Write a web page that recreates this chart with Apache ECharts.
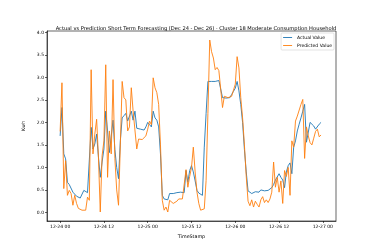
<!DOCTYPE html>
<html><head><meta charset="utf-8">
<script src="https://cdn.jsdelivr.net/npm/echarts@6/dist/echarts.min.js"></script>
<style>html,body{margin:0;padding:0;background:#fff}#c{width:374px;height:249px}</style>
</head><body><div id="c"></div>
<script>
// Half-hourly readings, 12-24 00:00 to 12-26 23:30
const startHour = 0, stepHours = 0.5;
const actual = [
1.70,2.33,1.30,1.19,0.67,0.62,0.58,0.45,0.43,0.36,0.34,0.32,0.31,0.49,0.45,0.44,0.43,1.89,1.41,1.52,
1.74,1.23,0.78,1.12,1.41,2.25,1.81,1.33,1.30,2.05,1.40,1.00,0.75,1.60,2.10,2.15,2.20,2.03,2.05,2.25,
2.05,2.25,1.87,1.85,1.85,1.85,1.83,1.90,2.00,1.95,1.90,2.25,2.10,2.05,1.90,1.30,0.38,0.30,0.34,0.28,
0.42,0.41,0.42,0.42,0.44,0.45,0.45,0.44,0.44,0.93,0.67,0.93,1.04,0.90,0.70,0.49,0.43,0.42,0.38,1.45,
2.20,2.91,2.95,2.91,2.87,2.91,2.93,2.93,2.93,2.55,2.55,2.54,2.55,2.55,2.62,2.69,2.76,2.91,2.70,2.40,
2.00,1.40,0.90,0.48,0.44,0.42,0.41,0.46,0.43,0.45,0.50,0.47,0.48,0.48,0.49,0.52,0.55,0.62,0.72,0.70,
0.86,0.78,0.72,0.55,0.90,1.04,1.10,0.86,1.45,1.59,1.81,1.96,2.10,2.25,2.40,1.56,1.56,2.00,1.96,1.92,
1.85,1.88,1.96,2.00];
const predicted = [
1.80,2.88,0.53,1.15,0.38,0.49,0.42,0.16,0.38,0.20,0.09,0.12,0.05,0.01,0.05,0.34,0.27,3.17,1.30,1.74,
2.07,1.23,0.01,1.26,1.59,3.28,0.78,1.81,1.30,2.95,1.20,0.50,0.16,1.50,2.91,2.55,2.50,1.81,1.90,2.77,
2.25,2.29,1.41,1.63,1.60,1.62,1.64,1.70,1.85,2.03,1.95,2.99,2.77,2.66,2.40,1.50,0.27,0.05,0.12,0.01,
0.27,0.23,0.20,0.23,0.25,0.30,0.34,0.30,0.30,0.95,0.56,0.80,1.00,1.45,0.90,0.45,0.20,0.05,0.01,0.08,
0.71,2.20,3.83,3.57,3.43,3.17,3.22,3.15,3.15,2.33,2.58,2.55,2.55,2.58,2.58,2.62,2.85,3.46,3.21,2.55,
2.10,1.50,0.80,0.25,0.15,0.28,0.12,0.25,0.18,0.12,0.28,0.35,0.22,0.28,0.22,0.30,0.45,1.12,0.56,0.78,
0.45,0.70,0.20,0.93,0.80,1.00,0.38,1.59,1.45,2.03,2.14,2.14,2.40,2.51,1.20,1.90,1.70,1.55,1.50,1.65,
1.80,1.85,1.68,1.72];
const xTickHours = [0,12,24,36,48,60,72];
const xTickLabels = ['12-24 00','12-24 12','12-25 00','12-25 12','12-26 00','12-26 12','12-27 00'];
const yTicks = [0,0.5,1.0,1.5,2.0,2.5,3.0,3.5,4.0];

const toPairs = arr => arr.map((v,i)=>[startHour + i*stepHours, v]);
const font = 'DejaVu Sans';
const lineIcon = 'path://M0,0 L10,0 L10,1 L0,1 Z';
const chart = echarts.init(document.getElementById('c'), null, {renderer:'canvas'});
chart.setOption({
  animation:false,
  textStyle:{fontFamily:font},
  title:{text:'Actual vs Prediction Short Term Forecasting (Dec 24 - Dec 26) - Cluster 18 Moderate Consumption Household',
    left:191, textAlign:'center', top:21, textStyle:{fontSize:5.15, fontWeight:'normal', color:'#000', fontFamily:font}},
  grid:{left:47, right:38, top:31, bottom:28, show:true, borderColor:'#000', borderWidth:0.6, backgroundColor:'transparent'},
  legend:{orient:'vertical', right:40, top:33, itemWidth:9, itemHeight:1, itemGap:3,
    padding:[2,2,2,2], borderColor:'#d0d0d0', borderWidth:0.6, borderRadius:1,
    textStyle:{fontSize:4.5, color:'#000', fontFamily:font},
    data:[{name:'Actual Value', icon:lineIcon},{name:'Predicted Value', icon:lineIcon}]},
  xAxis:{type:'value', min:-3.6, max:75.6, name:'TimeStamp', nameLocation:'middle', nameGap:9,
    nameTextStyle:{fontSize:4.8, color:'#000'},
    axisLine:{show:true, onZero:false, lineStyle:{color:'#000', width:0.6}},
    axisTick:{show:true, length:2, customValues:xTickHours, lineStyle:{color:'#000', width:0.6}},
    axisLabel:{fontSize:4.5, color:'#000', margin:3, customValues:xTickHours,
      formatter:v=>{const k=xTickHours.indexOf(v); return k>=0?xTickLabels[k]:'';}},
    splitLine:{show:false}},
  yAxis:{type:'value', min:-0.19, max:4.03, name:'Kwh', nameLocation:'middle', nameGap:15,
    nameTextStyle:{fontSize:4.8, color:'#000'},
    axisLine:{show:true, onZero:false, lineStyle:{color:'#000', width:0.6}},
    axisTick:{show:true, length:2, customValues:yTicks, lineStyle:{color:'#000', width:0.6}},
    axisLabel:{fontSize:4.5, color:'#000', margin:3, customValues:yTicks, formatter:v=>v.toFixed(1)},
    splitLine:{show:false}},
  series:[
    {name:'Actual Value', type:'line', data:toPairs(actual), symbol:'none', lineStyle:{color:'#1f77b4', width:0.9}, itemStyle:{color:'#1f77b4'}},
    {name:'Predicted Value', type:'line', data:toPairs(predicted), symbol:'none', lineStyle:{color:'#ff7f0e', width:0.9}, itemStyle:{color:'#ff7f0e'}}
  ]
});
</script></body></html>
